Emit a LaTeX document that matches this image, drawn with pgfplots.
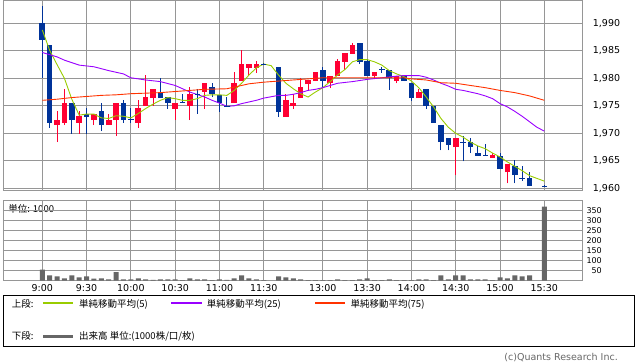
\documentclass[border=0pt]{standalone}
\usepackage{pgfplots}
\pgfplotsset{compat=1.18}
\usepackage{pgfplotstable}
\usepackage{fontspec}
\setmainfont{DejaVu Sans}
\newfontfamily\jp{Noto Sans CJK JP}
\definecolor{cblue}{RGB}{0,51,153}
\definecolor{cred}{RGB}{255,0,51}
\definecolor{maA}{RGB}{153,204,0}
\definecolor{maB}{RGB}{153,0,255}
\definecolor{maC}{RGB}{255,51,0}
\definecolor{gridc}{RGB}{150,150,150}
\definecolor{volc}{RGB}{102,102,102}

\pgfplotstableread{
i o h l c
2 1971.5 1974.0 1968.4 1972.5
3 1971.9 1978.0 1971.5 1975.6
5 1971.9 1974.0 1969.9 1973.1
7 1972.4 1973.6 1971.5 1973.5
9 1971.5 1973.6 1971.5 1972.5
10 1972.4 1975.6 1969.5 1975.6
13 1971.9 1976.1 1971.0 1974.6
14 1975.0 1980.6 1975.0 1976.6
15 1976.4 1978.0 1975.0 1978.0
18 1974.4 1975.6 1972.4 1975.6
20 1975.0 1978.5 1972.4 1977.1
22 1977.6 1979.1 1974.5 1979.1
26 1975.5 1981.1 1975.5 1979.1
27 1979.5 1985.1 1979.5 1982.6
28 1981.9 1982.6 1980.4 1982.6
29 1981.9 1983.1 1981.0 1982.6
33 1973.0 1977.1 1973.0 1976.1
34 1974.9 1977.1 1974.5 1975.6
35 1976.4 1980.0 1976.4 1978.5
36 1978.9 1979.7 1977.9 1979.7
37 1979.5 1981.1 1979.5 1981.1
39 1979.1 1980.5 1978.2 1980.5
40 1980.5 1983.6 1980.5 1983.1
41 1983.0 1984.6 1981.5 1984.6
42 1984.5 1986.5 1984.5 1986.0
45 1980.4 1981.1 1980.0 1981.1
48 1979.5 1980.4 1979.1 1980.4
51 1976.4 1978.0 1976.4 1977.6
56 1967.5 1969.1 1962.4 1969.1
61 1965.5 1966.5 1965.5 1966.1
63 1962.9 1964.5 1960.9 1964.5
}\upcandles

\pgfplotstableread{
i o h l c
0 1990.0 1993.2 1980.0 1987.0
1 1986.0 1986.0 1971.0 1971.9
4 1975.6 1975.6 1969.9 1972.4
6 1973.6 1974.6 1969.9 1973.0
8 1974.0 1975.6 1970.4 1971.5
11 1975.6 1976.1 1971.9 1972.4
16 1977.6 1980.0 1976.4 1976.4
17 1976.6 1976.6 1974.5 1975.5
23 1978.5 1979.1 1976.6 1977.1
24 1977.0 1977.0 1973.9 1975.5
32 1982.0 1982.0 1973.0 1973.9
38 1981.6 1982.0 1978.5 1979.5
43 1986.5 1986.5 1982.6 1983.0
44 1983.1 1983.6 1980.4 1980.4
47 1981.6 1981.6 1977.9 1980.0
49 1980.4 1980.4 1979.5 1979.5
50 1979.1 1979.1 1975.9 1976.4
52 1978.0 1978.0 1974.4 1975.0
53 1975.0 1975.0 1971.9 1971.9
54 1971.6 1971.6 1966.9 1968.4
55 1969.1 1969.1 1966.9 1967.9
58 1968.4 1969.1 1966.4 1967.5
59 1966.5 1967.7 1965.9 1965.9
62 1965.9 1966.4 1963.5 1963.5
64 1964.0 1965.1 1960.9 1962.4
66 1961.9 1963.0 1960.4 1960.4
}\downcandles

\pgfplotstableread{
i o h l c
12 1972.5 1974.6 1971.9 1972.5
19 1975.6 1977.1 1975.6 1975.6
21 1977.1 1978.0 1973.6 1977.1
25 1974.9 1976.6 1974.9 1974.9
30 1982.6 1982.8 1982.4 1982.6
46 1981.6 1982.0 1981.0 1981.6
57 1968.4 1969.5 1964.9 1968.4
60 1966.0 1968.0 1966.0 1966.0
65 1961.7 1964.0 1961.4 1961.7
68 1960.4 1960.6 1960.2 1960.4
}\dojicandles

\begin{document}
\begin{tikzpicture}
\path[use as bounding box] (0pt,0pt) rectangle (638pt,-362pt);

% legend box (drawn first)
\draw[draw=black, line width=0.8pt] (3.3pt,-295pt) rectangle (634.7pt,-346pt);
\fill[fill=maA] (42.7pt,-302.2pt) rectangle (73.3pt,-304.4pt);
\fill[fill=maB] (171pt,-302.2pt) rectangle (201.7pt,-304.4pt);
\fill[fill=maC] (315pt,-302.2pt) rectangle (344.7pt,-304.4pt);
\fill[fill=volc] (42.7pt,-334.6pt) rectangle (73.3pt,-337.9pt);
\begin{scope}[every node/.style={anchor=base west, inner sep=0pt, font=\jp\fontsize{9.5}{10}\selectfont}]
\node at (11.7pt,-307pt) {上段:};
\node at (79pt,-307pt) {単純移動平均(5)};
\node at (206.7pt,-307pt) {単純移動平均(25)};
\node at (350.3pt,-307pt) {単純移動平均(75)};
\node at (11.7pt,-339.5pt) {下段:};
\node at (79pt,-339.5pt) {出来高 単位:(1000株/口/枚)};
\end{scope}
\node[anchor=base east, inner sep=0pt, text=volc, font=\fontsize{9.5}{10}\selectfont] at (618pt,-360pt) {(c)Quants Research Inc.};
\node[anchor=base west, inner sep=0pt, font=\jp\fontsize{9.5}{10}\selectfont] at (8.3pt,-212.3pt) {単位: 1000};

\begin{axis}[
  at={(3pt,-0.5pt)}, anchor=north west, scale only axis,
  width=579.7pt, height=189.5pt,
  xmin=-5.32, xmax=73.2, ymin=1959.69, ymax=1994.15,
  axis line style={draw=gridc, line width=0.8pt},
  xtick={0,6,12,18,24,30,38,44,50,56,62,68}, xticklabels={},
  ytick={1960,1965,1970,1975,1980,1985,1990},
  yticklabel pos=right,
  major tick length=0pt,
  grid=major, major grid style={draw=gridc, line width=0.8pt},
  scaled y ticks=false,
  yticklabel style={anchor=west, inner sep=0pt, xshift=10pt, font=\fontsize{9.5}{10}\selectfont},
  clip=true,
  /pgf/number format/.cd, 1000 sep={,}, assume math mode=true,
]
% wicks
\addplot[draw=none, mark=none, forget plot,
  error bars/.cd, y dir=plus, y explicit, error mark=none,
  error bar style={line width=1pt, draw=cred}]
  table[x=i, y=l, y error plus expr=\thisrow{h}-\thisrow{l}] {\upcandles};
\addplot[draw=none, mark=none, forget plot,
  error bars/.cd, y dir=plus, y explicit, error mark=none,
  error bar style={line width=1pt, draw=cblue}]
  table[x=i, y=l, y error plus expr=\thisrow{h}-\thisrow{l}] {\downcandles};
\addplot[draw=none, mark=none, forget plot,
  error bars/.cd, y dir=plus, y explicit, error mark=none,
  error bar style={line width=1pt, draw=cblue}]
  table[x=i, y=l, y error plus expr=\thisrow{h}-\thisrow{l}] {\dojicandles};
% bodies
\addplot[draw=none, mark=none, forget plot,
  error bars/.cd, y dir=plus, y explicit, error mark=none,
  error bar style={line width=5.6pt, draw=cred, line cap=butt}]
  table[x=i, y=o, y error plus expr=\thisrow{c}-\thisrow{o}] {\upcandles};
\addplot[draw=none, mark=none, forget plot,
  error bars/.cd, y dir=plus, y explicit, error mark=none,
  error bar style={line width=5.6pt, draw=cblue, line cap=butt}]
  table[x=i, y=c, y error plus expr=\thisrow{o}-\thisrow{c}] {\downcandles};
\addplot[only marks, mark=-, mark size=2.7pt, forget plot,
  mark options={draw=cblue, line width=1pt}]
  table[x=i, y=o] {\dojicandles};
% moving averages
\addplot[draw=maA, line width=0.9pt, no marks] coordinates {
(0,1988.8)(1,1985.1)(2,1982.5)(3,1980.0)(4,1976.2)(5,1973.3)(6,1973.5)(7,1973.5)
(8,1972.8)(9,1972.7)(10,1973.2)(11,1973.1)(12,1972.8)(13,1973.6)(14,1974.5)(15,1975.3)
(16,1976.0)(17,1976.5)(18,1976.3)(19,1976.0)(20,1976.0)(21,1976.3)(22,1976.9)(23,1977.0)
(24,1977.0)(25,1976.9)(26,1977.8)(27,1979.1)(28,1980.6)(29,1981.9)(30,1982.6)(31,1982.3)
(32,1980.6)(33,1979.1)(34,1978.1)(35,1977.2)(36,1976.6)(37,1977.5)(38,1978.3)(39,1979.4)
(40,1980.6)(41,1981.6)(42,1983.0)(43,1983.4)(44,1983.4)(45,1983.0)(46,1982.4)(47,1981.4)
(48,1980.8)(49,1980.3)(50,1979.5)(51,1978.3)(52,1976.6)(53,1974.8)(54,1972.7)(55,1971.1)
(56,1970.0)(57,1969.3)(58,1968.4)(59,1967.7)(60,1967.2)(61,1966.4)(62,1965.7)(63,1964.8)
(64,1964.0)(65,1963.2)(66,1962.3)(67,1961.8)(68,1961.3)};
\addplot[draw=maB, line width=0.9pt, no marks] coordinates {
(0,1984.7)(2,1983.9)(3,1983.3)(5,1982.4)(7,1982.1)(9,1981.4)(11,1980.8)(12,1980.1)
(14,1979.7)(16,1979.4)(18,1978.7)(20,1977.5)(22,1976.6)(23,1976.0)(24,1975.5)(25,1974.9)
(26,1975.0)(27,1975.4)(29,1976.0)(30,1976.4)(32,1976.9)(33,1976.9)(34,1977.1)(35,1977.4)
(36,1977.8)(37,1978.0)(38,1978.3)(39,1978.7)(40,1979.1)(42,1979.4)(44,1979.8)(46,1980.1)
(48,1980.4)(49,1980.5)(51,1980.5)(52,1980.2)(53,1979.7)(54,1979.1)(55,1978.6)(56,1978.0)
(57,1977.8)(58,1977.5)(59,1977.2)(60,1976.8)(61,1976.3)(62,1975.4)(63,1974.8)(64,1974.0)
(65,1973.1)(66,1972.1)(67,1971.1)(68,1970.4)};
\addplot[draw=maC, line width=0.9pt, no marks] coordinates {
(0,1976.0)(2,1976.2)(4,1976.5)(6,1976.7)(8,1976.9)(10,1977.0)(12,1977.2)(16,1977.4)
(18,1977.6)(22,1978.0)(25,1978.1)(26,1978.4)(28,1979.0)(30,1979.3)(32,1979.5)(35,1979.8)
(38,1980.1)(46,1980.1)(49,1980.1)(50,1979.9)(52,1979.7)(54,1979.2)(56,1979.1)(58,1978.7)
(60,1978.3)(62,1977.8)(64,1977.4)(66,1976.8)(68,1976.0)};
\end{axis}

\begin{axis}[
  at={(3pt,-200.5pt)}, anchor=north west, scale only axis,
  width=579.7pt, height=80pt,
  xmin=-5.32, xmax=73.2, ymin=0, ymax=400,
  axis line style={draw=gridc, line width=0.8pt},
  xtick={0,6,12,18,24,30,38,44,50,56,62,68},
  xticklabels={9:00,9:30,10:00,10:30,11:00,11:30,13:00,13:30,14:00,14:30,15:00,15:30},
  ytick={50,100,150,200,250,300,350},
  yticklabel pos=right,
  major tick length=0pt,
  grid=major, major grid style={draw=gridc, line width=0.8pt},
  yticklabel style={anchor=east, inner sep=0pt, xshift=19.3pt, font=\fontsize{8}{8}\selectfont},
  xticklabel style={anchor=base, inner sep=0pt, yshift=-10.5pt, font=\fontsize{9.5}{10}\selectfont},
  /pgf/number format/assume math mode=true,
]
\addplot[ybar, bar width=5pt, fill=volc, draw=none] coordinates {
(0,55)(1,26)(2,21)(3,11)(4,26)(5,16)(6,21)(7,10)(8,11)(9,6)(10,42)(11,6)(12,6)(13,11)
(14,6)(15,3)(16,6)(17,6)(18,6)(19,2)(20,11)(21,6)(22,6)(23,2)(24,6)(25,3)(26,11)(27,26)
(28,11)(29,6)(30,2)(32,21)(33,16)(34,11)(35,6)(36,2)(37,2)(38,2)(39,2)(40,6)(41,2)(42,2)
(43,6)(44,11)(45,2)(46,2)(47,6)(48,2)(49,2)(50,2)(51,6)(52,6)(53,2)(54,26)(55,6)(56,26)
(57,26)(58,6)(59,6)(60,6)(61,2)(62,16)(63,11)(64,26)(65,21)(66,26)(68,370)};
\end{axis}
\end{tikzpicture}
\end{document}
